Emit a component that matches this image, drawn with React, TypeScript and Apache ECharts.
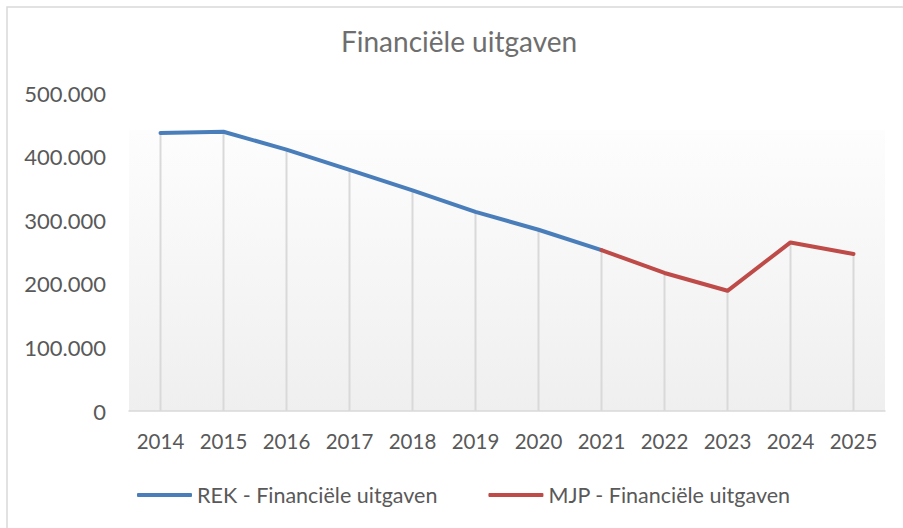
import React, { useEffect, useRef } from "react";
import * as echarts from "echarts";

const title = "Financiële uitgaven";
const years = ["2014", "2015", "2016", "2017", "2018", "2019", "2020", "2021", "2022", "2023", "2024", "2025"];
const rekName = "REK - Financiële uitgaven";
const mjpName = "MJP - Financiële uitgaven";
const rekValues: (number | null)[] = [437000, 439000, 411000, 379000, 347000, 313000, 285000, 253000, null, null, null, null];
const mjpValues: (number | null)[] = [null, null, null, null, null, null, null, 253000, 217000, 189000, 265000, 247000];
const yMin = 0;
const yMax = 500000;
const yStep = 100000;

const FONT = "Lato";
const TEXT = "#595959";

function fmt(v: number): string {
  return String(v).replace(/\B(?=(\d{3})+(?!\d))/g, ".");
}

export default function App() {
  const ref = useRef<HTMLDivElement>(null);
  useEffect(() => {
    if (!ref.current) return;
    const chart = echarts.init(ref.current, null, { renderer: "svg" });
    const drops = years.map((_, i) => (rekValues[i] ?? mjpValues[i]) as number);
    chart.setOption({
      animation: false,
      backgroundColor: "#ffffff",
      title: {
        text: title,
        left: 341,
        top: 27,
        padding: 0,
        textStyle: { fontFamily: FONT, fontSize: 28, fontWeight: "normal", color: "#6e6e6e" },
      },
      graphic: [
        {
          type: "rect",
          shape: { x: 7, y: 7, width: 905, height: 535 },
          style: { fill: "none", stroke: "#d9d9d9", lineWidth: 1.5 },
          silent: true,
          z: -10,
        },
      ],
      legend: {
        data: [rekName, mjpName],
        left: 137,
        top: 483,
        padding: 0,
        icon: "roundRect",
        itemWidth: 55,
        itemHeight: 4,
        itemGap: 51,
        textStyle: { fontFamily: FONT, fontSize: 21.5, color: TEXT, lineHeight: 24 },
      },
      grid: {
        left: 129,
        right: 18,
        top: 93,
        bottom: 117,
        show: true,
        borderWidth: 0,
        backgroundColor: {
          type: "linear",
          x: 0,
          y: 0,
          x2: 0,
          y2: 1,
          colorStops: [
            { offset: 0, color: "rgba(255,255,255,0)" },
            { offset: 0.115, color: "rgba(255,255,255,0)" },
            { offset: 0.117, color: "#fdfdfd" },
            { offset: 1, color: "#efefef" },
          ],
        },
      },
      xAxis: {
        type: "category",
        data: years,
        boundaryGap: true,
        axisLine: { lineStyle: { color: "#d9d9d9", width: 1.5 } },
        axisTick: { show: false },
        axisLabel: { fontFamily: FONT, fontSize: 20.5, color: TEXT, margin: 19, interval: 0, hideOverlap: false },
        splitLine: { show: false },
      },
      yAxis: {
        type: "value",
        min: yMin,
        max: yMax,
        interval: yStep,
        axisLine: { show: false },
        axisTick: { show: false },
        splitLine: { show: false },
        axisLabel: {
          fontFamily: FONT,
          fontSize: 22,
          color: TEXT,
          margin: 23,
          formatter: (v: number) => fmt(v),
        },
      },
      series: [
        {
          name: "drops",
          type: "bar",
          data: drops,
          barWidth: 2,
          silent: true,
          itemStyle: { color: "#d9d9d9" },
          z: 1,
        },
        {
          name: rekName,
          type: "line",
          data: rekValues,
          showSymbol: false,
          symbol: "none",
          lineStyle: { color: "#4a7ebb", width: 4, cap: "round", join: "round" },
          itemStyle: { color: "#4a7ebb" },
          z: 3,
        },
        {
          name: mjpName,
          type: "line",
          data: mjpValues,
          showSymbol: false,
          symbol: "none",
          lineStyle: { color: "#be4b48", width: 4, cap: "round", join: "round" },
          itemStyle: { color: "#be4b48" },
          z: 4,
        },
      ],
    });
    return () => chart.dispose();
  }, []);
  return (
    <div
      ref={ref}
      style={{ position: "fixed", left: 0, top: 0, width: 903, height: 528 }}
    />
  );
}
